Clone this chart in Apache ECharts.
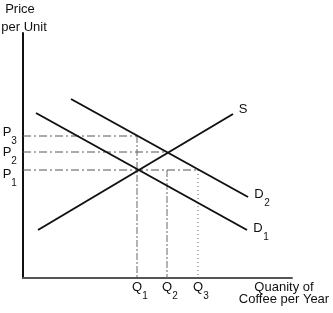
<!DOCTYPE html>
<html>
<head>
<meta charset="utf-8">
<script src="https://cdn.jsdelivr.net/npm/echarts@6/dist/echarts.min.js"></script>
<style>html,body{margin:0;padding:0;background:#fff;}#c{width:333px;height:313px;}</style>
</head>
<body>
<div id="c"></div>
<script>
// Schematic units (no numeric ticks in the original)
const supplyS = [[15, 48], [210, 164]];
const demandD1 = [[13, 165], [224, 48]];
const demandD2 = [[48, 179], [225, 81]];
const qValues = [114, 144, 175];   // Q1, Q2, Q3
const pValues = [108, 126, 142];   // P1, P2, P3
const qLabels = ['1', '2', '3'];
const pLabels = ['1', '2', '3'];
const xTitle = ['Quanity of', 'Coffee per Year'];
const yTitle = ['Price', 'per Unit'];

const FONT = '"Liberation Sans", Arial, sans-serif';
const chart = echarts.init(document.getElementById('c'), null, {renderer: 'canvas'});

const solid = {color: '#111', width: 2};
const dashDot = {color: '#555', width: 1, type: [8, 3, 2, 3]};
const dashV = {color: '#666', width: 1, type: [7, 2, 2, 2]};
const dotV = {color: '#666', width: 1, type: [1, 3]};

function seg(data, style) {
  return {type: 'line', data: data, symbol: 'none', silent: true, lineStyle: style, animation: false, z: style === solid ? 3 : 2};
}

const [Q1, Q2, Q3] = qValues;
const [P1, P2, P3] = pValues;

chart.setOption({
  animation: false,
  backgroundColor: '#fff',
  grid: {left: 23, right: 41, top: 33, bottom: 35},
  xAxis: {type: 'value', min: 0, max: 269,
    axisLine: {show: true, lineStyle: {color: '#555', width: 2}},
    axisTick: {show: false}, axisLabel: {show: false}, splitLine: {show: false}},
  yAxis: {type: 'value', min: 0, max: 245,
    axisLine: {show: true, lineStyle: {color: '#111', width: 2}},
    axisTick: {show: false}, axisLabel: {show: false}, splitLine: {show: false}},
  series: [
    seg([[0, P3], [Q1, P3]], dashDot),
    seg([[0, P2], [Q2, P2]], dashDot),
    seg([[0, P1], [Q3, P1]], dashDot),
    seg([[Q1, P3], [Q1, 0]], dashV),
    seg([[Q2, P1], [Q2, 0]], dashV),
    seg([[Q3, P1], [Q3, 0]], dotV),
    seg(supplyS, solid),
    seg(demandD1, solid),
    seg(demandD2, solid)
  ]
});

function px(pt) { return chart.convertToPixel({gridIndex: 0}, pt); }
const els = [];
function txt(x, y, s, size, align) {
  els.push({type: 'text', x: x, y: y, style: {text: s, fill: '#111', font: size + 'px ' + FONT, textAlign: align || 'center', textVerticalAlign: 'middle'}});
}
function sub(x, y, main, s, dx) {
  txt(x, y, main, 13, 'center');
  txt(x + (dx || 8), y + 9, s, 10, 'center');
}

// P labels (small per-label vertical offsets as in the original artwork)
const pOffsets = [4, 0, -4];
pValues.forEach((p, i) => {
  const [, y] = px([0, p]);
  sub(7, y + pOffsets[i], 'P', pLabels[i], 7);
});
// Q labels
qValues.forEach((q, i) => {
  const [x, y] = px([q, 0]);
  sub(x, y + 9, 'Q', qLabels[i]);
});
// Curve labels
let e = px(supplyS[1]);
txt(e[0] + 10, e[1] - 5, 'S', 13);
e = px(demandD2[1]);
sub(e[0] + 11, e[1] - 3, 'D', '2');
e = px(demandD1[1]);
sub(e[0] + 11, e[1] - 2, 'D', '1');
// Axis titles
txt(20, 9, yTitle[0], 13);
txt(24, 27, yTitle[1], 13);
txt(284, 287, xTitle[0], 13);
txt(284, 299, xTitle[1], 13);

chart.setOption({graphic: {elements: els}});
</script>
</body>
</html>
